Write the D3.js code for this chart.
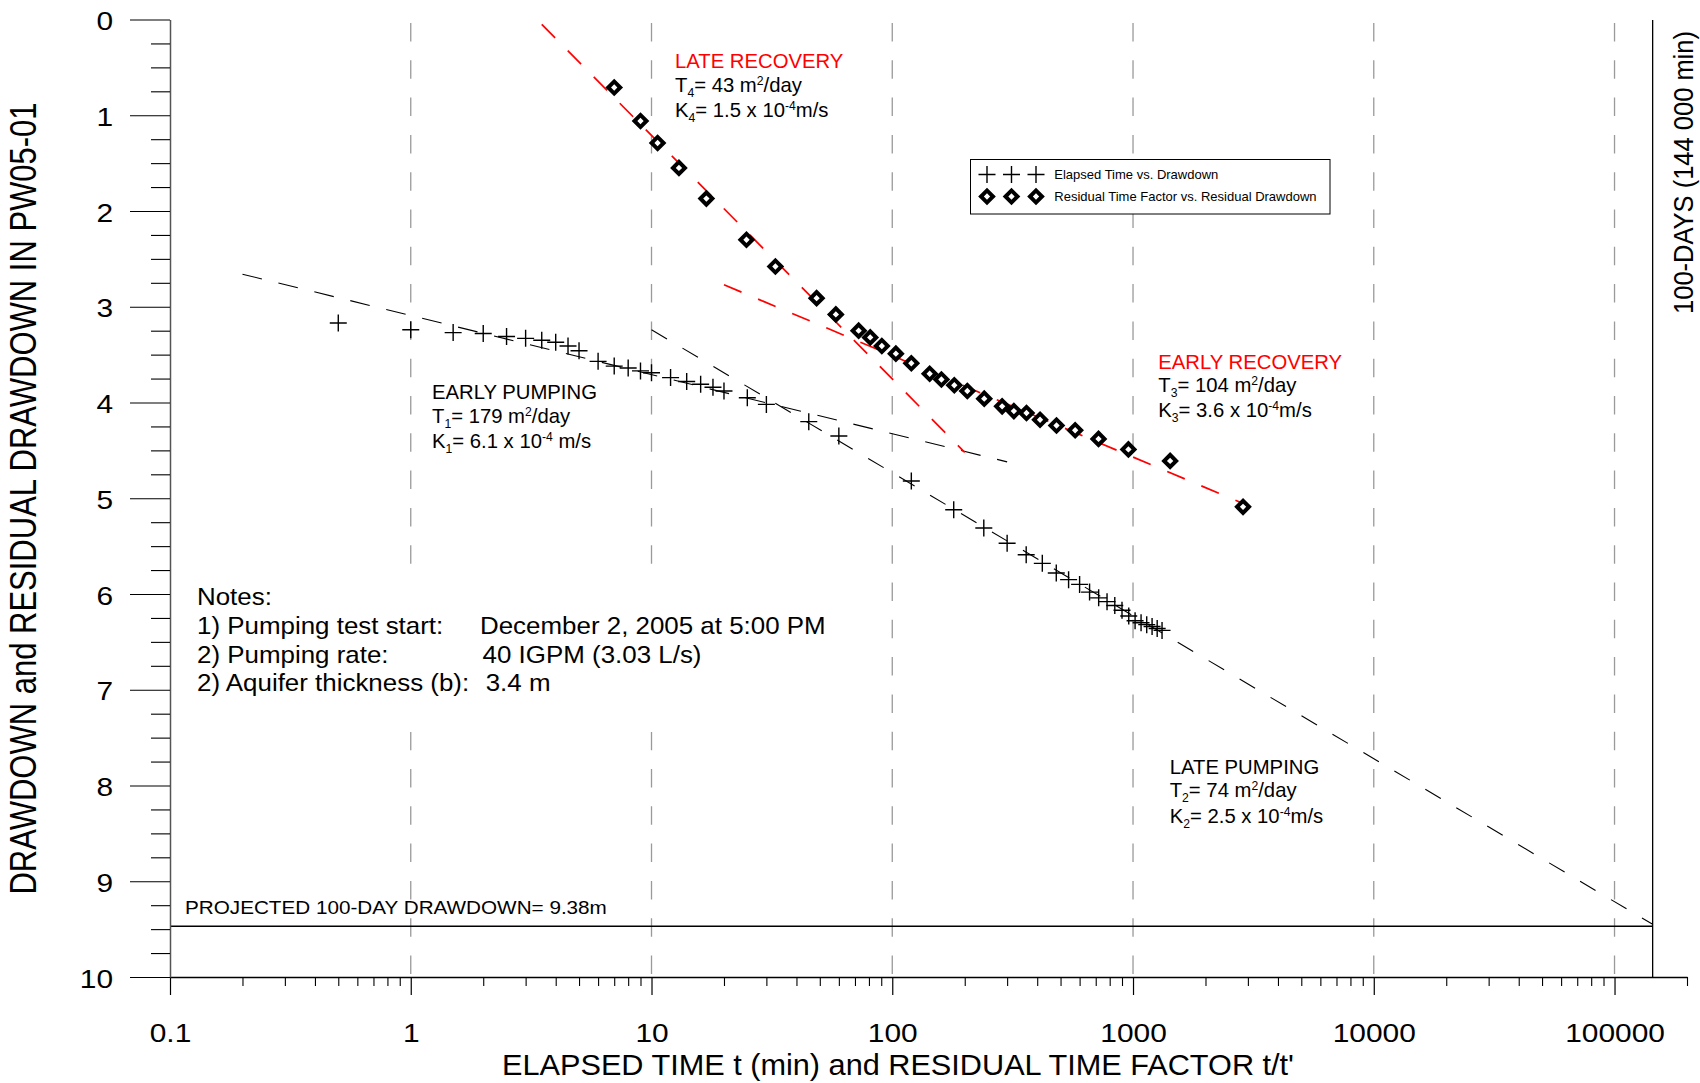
<!DOCTYPE html>
<html>
<head>
<meta charset="utf-8">
<script src="https://cdn.jsdelivr.net/npm/d3@7"></script>
<style>
body { margin: 0; background: #fff; }
svg { display: block; font-family: "Liberation Sans", Arial, sans-serif; }
</style>
</head>
<body>
<svg id="chart" width="1700" height="1083"></svg>
<script>
// elapsed time (min) vs drawdown (m) during pumping
pump_time = [0.5, 1, 1.5, 2, 2.5, 3, 3.5, 4, 4.5, 5, 6, 7, 8, 9, 10, 12, 14, 16, 18, 20, 25, 30, 45, 60,
    120, 180, 240, 300, 360, 420, 480, 540, 600, 660, 720, 780, 840, 900, 960, 1020, 1080, 1140, 1200, 1260, 1320];
pump_drawdown = [3.17, 3.24, 3.27, 3.28, 3.31, 3.33, 3.35, 3.37, 3.41, 3.46, 3.57, 3.62, 3.64, 3.67, 3.69, 3.74, 3.78, 3.81, 3.84, 3.88, 3.95, 4.02, 4.20, 4.35,
    4.82, 5.12, 5.31, 5.47, 5.59, 5.68, 5.78, 5.85, 5.90, 5.98, 6.04, 6.08, 6.12, 6.17, 6.23, 6.28, 6.30, 6.32, 6.34, 6.36, 6.38];

// residual time factor t/t' vs residual drawdown (m) during recovery
recov_factor = [7, 9, 10.6, 13, 16.9, 24.8, 32.7, 48.5, 58.3, 72.5, 81, 90.5, 103.5, 120, 143, 160, 181, 205, 241, 286, 320, 361, 411, 481, 575, 719, 957, 1426, 2864];
recov_drawdown = [0.71, 1.06, 1.29, 1.55, 1.87, 2.30, 2.58, 2.91, 3.08, 3.25, 3.32, 3.41, 3.49, 3.59, 3.70, 3.76, 3.82, 3.88, 3.96, 4.04, 4.09, 4.11, 4.18, 4.24, 4.29, 4.38, 4.49, 4.61, 5.09];

// straight line fits (end points)
early_pump_fit_t = [0.2, 300];
early_pump_fit_d = [2.66, 4.62];
late_pump_fit_t = [10, 144000];
late_pump_fit_d = [3.24, 9.45];
late_recov_fit_t = [3.5, 200];
late_recov_fit_d = [0.05, 4.52];
early_recov_fit_t = [20, 2900];
early_recov_fit_d = [2.77, 5.06];

days100_min = 144000;
projected_drawdown = 9.47;

x_ticks = [0.1, 1, 10, 100, 1000, 10000, 100000];
x_tick_labels = ["0.1", "1", "10", "100", "1000", "10000", "100000"];
y_ticks = [0, 1, 2, 3, 4, 5, 6, 7, 8, 9, 10];

var svg = d3.select("#chart");
var x = d3.scaleLog().domain([0.1, 200000]).range([170, 1687]);
var y = d3.scaleLinear().domain([0, 10]).range([19.5, 977]);

function zip(a, b) { return a.map(function (v, i) { return [v, b[i]]; }); }

function add_text(px, py, parts, size, color, sx, anchor, rotate) {
    var g = svg.append("g")
        .attr("transform", "translate(" + px + "," + py + ") scale(" + sx + ",1)" + (rotate ? " rotate(-90)" : ""));
    var t = g.append("text")
        .attr("font-size", size)
        .attr("fill", color)
        .attr("text-anchor", anchor || "start");
    var shift = 0;
    parts.forEach(function (p) {
        var s = typeof p === "string" ? [p, ""] : p;
        var target = s[1] === "sub" ? 5 : (s[1] === "sup" ? -7 : 0);
        t.append("tspan")
            .attr("dy", target - shift)
            .attr("font-size", s[1] ? size * 0.6 : size)
            .text(s[0]);
        shift = target;
    });
    return g;
}

// vertical dashed grid
svg.append("g").selectAll("line")
    .data(x_ticks.slice(1))
    .enter().append("line")
    .attr("x1", function (d) { return x(d); })
    .attr("x2", function (d) { return x(d); })
    .attr("y1", 23)
    .attr("y2", y(10))
    .attr("stroke", "#9a9a9a")
    .attr("stroke-width", 1.3)
    .attr("stroke-dasharray", "18.5,18.8");

// notes background
svg.append("rect").attr("x", 190).attr("y", 568).attr("width", 645).attr("height", 164).attr("fill", "#fff");

// projected 100-day drawdown and 100-day marker
svg.append("line")
    .attr("x1", x(0.1)).attr("x2", x(days100_min))
    .attr("y1", y(projected_drawdown)).attr("y2", y(projected_drawdown))
    .attr("stroke", "#000").attr("stroke-width", 1.3);
svg.append("line")
    .attr("x1", x(days100_min)).attr("x2", x(days100_min))
    .attr("y1", 20).attr("y2", y(10))
    .attr("stroke", "#000").attr("stroke-width", 1.3);

var line = d3.line().x(function (d) { return x(d[0]); }).y(function (d) { return y(d[1]); });

svg.append("path").datum(zip(early_pump_fit_t, early_pump_fit_d))
    .attr("d", line).attr("fill", "none").attr("stroke", "#000").attr("stroke-width", 1.1).attr("stroke-dasharray", "20,17");
svg.append("path").datum(zip(late_pump_fit_t, late_pump_fit_d))
    .attr("d", line).attr("fill", "none").attr("stroke", "#000").attr("stroke-width", 1.1).attr("stroke-dasharray", "18,18");
svg.append("path").datum(zip(late_recov_fit_t, late_recov_fit_d))
    .attr("d", line).attr("fill", "none").attr("stroke", "#ff0000").attr("stroke-width", 1.7).attr("stroke-dasharray", "19,18");
svg.append("path").datum(zip(early_recov_fit_t, early_recov_fit_d))
    .attr("d", line).attr("fill", "none").attr("stroke", "#ff0000").attr("stroke-width", 1.7).attr("stroke-dasharray", "19,18");

var cross = "M-8.5,0H8.5M0,-8.5V8.5";
var diamond = d3.symbol().type(d3.symbolSquare).size(72)();

svg.append("g").selectAll("path")
    .data(zip(pump_time, pump_drawdown))
    .enter().append("path")
    .attr("d", cross)
    .attr("transform", function (d) { return "translate(" + x(d[0]) + "," + y(d[1]) + ")"; })
    .attr("stroke", "#000").attr("stroke-width", 1.4).attr("fill", "none");

svg.append("g").selectAll("path")
    .data(zip(recov_factor, recov_drawdown))
    .enter().append("path")
    .attr("d", diamond)
    .attr("transform", function (d) { return "translate(" + x(d[0]) + "," + y(d[1]) + ") rotate(45)"; })
    .attr("stroke", "#000").attr("stroke-width", 4).attr("fill", "#fff");

// axes
var x_minor = [];
for (var e = -1; e <= 5; e++) {
    for (var k = 2; k <= 9; k++) {
        var v = k * Math.pow(10, e);
        if (v <= 200000) x_minor.push(v);
    }
}
var y_minor = d3.range(0, 40).map(function (i) { return i * 0.25; }).filter(function (v) { return v % 1 !== 0; });

var xaxis = svg.append("g").attr("transform", "translate(0," + y(10) + ")")
    .call(d3.axisBottom(x).tickValues(x_ticks).tickSize(18).tickSizeOuter(0)
        .tickFormat(function (d, i) { return x_tick_labels[i]; }));
xaxis.select(".domain").attr("stroke", "#000").attr("stroke-width", 1.3);
xaxis.selectAll(".tick line").attr("stroke", "#000").attr("stroke-width", 1.2);
xaxis.selectAll(".tick text")
    .attr("font-size", 26).attr("font-family", "Liberation Sans, Arial, sans-serif").attr("fill", "#000")
    .attr("y", 1042 - 977).attr("dy", null)
    .attr("transform", "scale(1.15,1)");

var xminor = svg.append("g").attr("transform", "translate(0," + y(10) + ")")
    .call(d3.axisBottom(x).tickValues(x_minor).tickSize(9).tickSizeOuter(0).tickFormat(""));
xminor.select(".domain").remove();
xminor.selectAll(".tick line").attr("stroke", "#000").attr("stroke-width", 1.1);

var yaxis = svg.append("g").attr("transform", "translate(" + x(0.1) + ",0)")
    .call(d3.axisLeft(y).tickValues(y_ticks).tickSize(40).tickSizeOuter(0).tickFormat(d3.format("d")));
yaxis.select(".domain").attr("stroke", "#555").attr("stroke-width", 1.5);
yaxis.selectAll(".tick line").attr("stroke", "#000").attr("stroke-width", 1.2);
yaxis.selectAll(".tick text")
    .attr("font-size", 26).attr("font-family", "Liberation Sans, Arial, sans-serif").attr("fill", "#000")
    .attr("x", -57 / 1.15).attr("y", 10).attr("dy", null)
    .attr("transform", "scale(1.15,1)");

var yminor = svg.append("g").attr("transform", "translate(" + x(0.1) + ",0)")
    .call(d3.axisLeft(y).tickValues(y_minor).tickSize(19).tickSizeOuter(0).tickFormat(""));
yminor.select(".domain").remove();
yminor.selectAll(".tick line").attr("stroke", "#000").attr("stroke-width", 1.1);

// axis titles
add_text(898, 1075, ["ELAPSED TIME t (min) and RESIDUAL TIME FACTOR t/t'"], 29.5, "#000", 1.04, "middle");
add_text(36, 498.5, ["DRAWDOWN and RESIDUAL DRAWDOWN IN PW05-01"], 31, "#000", 1.2, "middle", true);
add_text(1692.5, 172.5, ["100-DAYS (144 000 min)"], 25.5, "#000", 1.1, "middle", true);

// annotations
var fs = 20.3;
add_text(675, 68.3, ["LATE RECOVERY"], fs, "#ff0000", 1);
add_text(675, 92, ["T", ["4", "sub"], "= 43 m", ["2", "sup"], "/day"], fs, "#000", 1);
add_text(675, 117.3, ["K", ["4", "sub"], "= 1.5 x 10", ["-4", "sup"], "m/s"], fs, "#000", 1);

add_text(1158.3, 369.3, ["EARLY RECOVERY"], fs, "#ff0000", 1);
add_text(1158.3, 391.7, ["T", ["3", "sub"], "= 104 m", ["2", "sup"], "/day"], fs, "#000", 1);
add_text(1158.3, 417.3, ["K", ["3", "sub"], "= 3.6 x 10", ["-4", "sup"], "m/s"], fs, "#000", 1);

add_text(432, 399, ["EARLY PUMPING"], fs, "#000", 1);
add_text(432, 423, ["T", ["1", "sub"], "= 179 m", ["2", "sup"], "/day"], fs, "#000", 1);
add_text(432, 448, ["K", ["1", "sub"], "= 6.1 x 10", ["-4", "sup"], " m/s"], fs, "#000", 1);

add_text(1169.7, 774, ["LATE PUMPING"], fs, "#000", 1);
add_text(1169.7, 797, ["T", ["2", "sub"], "= 74 m", ["2", "sup"], "/day"], fs, "#000", 1);
add_text(1169.7, 823, ["K", ["2", "sub"], "= 2.5 x 10", ["-4", "sup"], "m/s"], fs, "#000", 1);

// notes
add_text(197, 605, ["Notes:"], 24, "#000", 1.08);
add_text(197, 634, ["1) Pumping test start:"], 24, "#000", 1.08);
add_text(480, 634, ["December 2, 2005 at 5:00 PM"], 24, "#000", 1.08);
add_text(197, 662.5, ["2) Pumping rate:"], 24, "#000", 1.08);
add_text(482.6, 662.5, ["40 IGPM (3.03 L/s)"], 24, "#000", 1.08);
add_text(197, 691, ["2) Aquifer thickness (b):"], 24, "#000", 1.08);
add_text(485.7, 691, ["3.4 m"], 24, "#000", 1.08);

add_text(185, 914, ["PROJECTED 100-DAY DRAWDOWN= 9.38m"], 18, "#000", 1.15);

// legend
var legend = svg.append("g");
legend.append("rect").attr("x", 970.5).attr("y", 159.5).attr("width", 359.5).attr("height", 54.5)
    .attr("fill", "#fff").attr("stroke", "#000").attr("stroke-width", 1);
[987, 1011.5, 1036].forEach(function (cx) {
    legend.append("path").attr("d", cross).attr("transform", "translate(" + cx + ",174.5)")
        .attr("stroke", "#000").attr("stroke-width", 1.4).attr("fill", "none");
    legend.append("path").attr("d", diamond).attr("transform", "translate(" + cx + ",196.5) rotate(45)")
        .attr("stroke", "#000").attr("stroke-width", 4).attr("fill", "#fff");
});
add_text(1054.3, 179, ["Elapsed Time vs. Drawdown"], 13, "#000", 1);
add_text(1054.3, 201, ["Residual Time Factor vs. Residual Drawdown"], 13, "#000", 1);
</script>
</body>
</html>
